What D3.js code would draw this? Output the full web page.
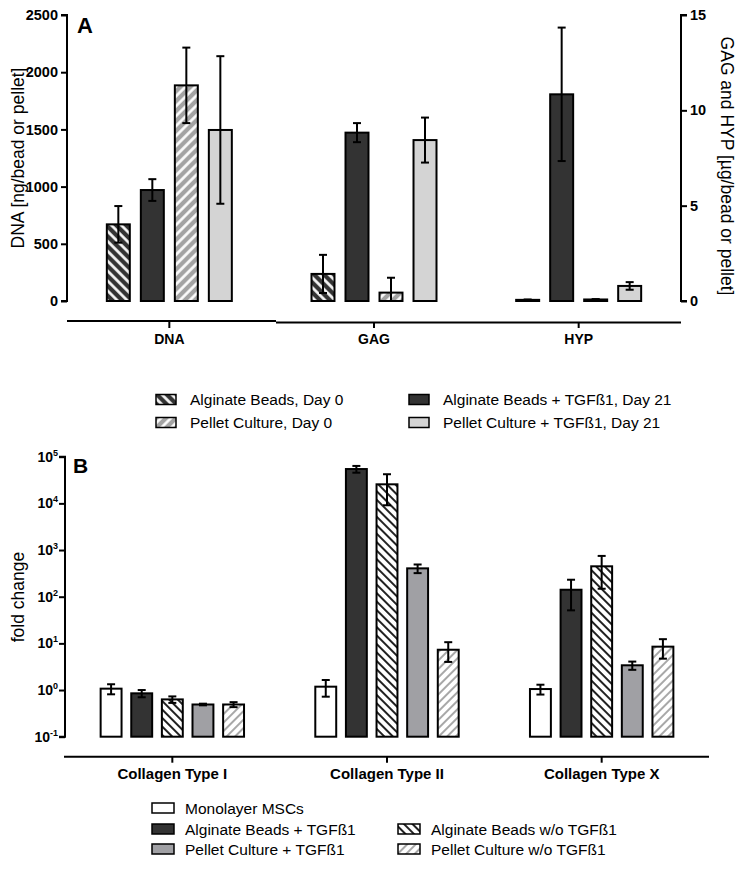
<!DOCTYPE html>
<html><head><meta charset="utf-8">
<script src="https://cdn.jsdelivr.net/npm/d3@7"></script>
<style>
body{margin:0;background:#fff;}
svg{display:block;font-family:Arial,"Liberation Sans",sans-serif;}
</style></head>
<body>
<svg id="chart" width="743" height="869"></svg>
<script>
// ---------- Panel A data ----------
const groupsA = ["DNA", "GAG", "HYP"];
const seriesA = ["Alginate Beads, Day 0", "Alginate Beads + TGFß1, Day 21", "Pellet Culture, Day 0", "Pellet Culture + TGFß1, Day 21"];
const algDay0 = [670, 1.42, 0.06];
const algDay0Sd = [160, 1.0, 0.02];
const algTgfDay21 = [970, 8.83, 10.84];
const algTgfDay21Sd = [95, 0.5, 3.5];
const pelDay0 = [1885, 0.44, 0.08];
const pelDay0Sd = [330, 0.78, 0.02];
const pelTgfDay21 = [1495, 8.44, 0.79];
const pelTgfDay21Sd = [645, 1.18, 0.2];
const leftTicksA = [0, 500, 1000, 1500, 2000, 2500];
const rightTicksA = [0, 5, 10, 15];

// ---------- Panel B data ----------
const groupsB = ["Collagen Type I", "Collagen Type II", "Collagen Type X"];
const seriesB = ["Monolayer MSCs", "Alginate Beads + TGFß1", "Alginate Beads w/o TGFß1", "Pellet Culture + TGFß1", "Pellet Culture w/o TGFß1"];
const monolayer = [1.07, 1.18, 1.05];
const monolayerSd = [0.26, 0.46, 0.25];
const algTgf = [0.85, 54400, 141];
const algTgfSd = [0.15, 9000, 90];
const algNoTgf = [0.63, 25600, 448];
const algNoTgfSd = [0.1, 16500, 300];
const pelTgf = [0.49, 405, 3.39];
const pelTgfSd = [0.02, 85, 0.68];
const pelNoTgf = [0.49, 7.3, 8.5];
const pelNoTgfSd = [0.06, 3.3, 3.8];
const logTicksB = [-1, 0, 1, 2, 3, 4, 5];

const FONT = "Arial, 'Liberation Sans', sans-serif";
const svg = d3.select("#chart");
const defs = svg.append("defs");
function hatch(id, bg, fg, angle, size, lw) {
  const p = defs.append("pattern").attr("id", id).attr("patternUnits", "userSpaceOnUse")
    .attr("width", size).attr("height", size).attr("patternTransform", `rotate(${angle})`);
  p.append("rect").attr("width", size).attr("height", size).attr("fill", bg);
  p.append("line").attr("x1", size / 2).attr("x2", size / 2).attr("y1", 0).attr("y2", size)
    .attr("stroke", fg).attr("stroke-width", lw);
}
hatch("hA1", "#333333", "#ffffff", -45, 7, 2.6);
hatch("hA3", "#a3a3a3", "#ffffff", 45, 7, 2.6);
hatch("hB3", "#ffffff", "#222222", -45, 6, 2.0);
hatch("hB5", "#ffffff", "#a8a8a8", 45, 6, 2.0);

const fillsA = ["url(#hA1)", "#333333", "url(#hA3)", "#d4d4d4"];
const fillsB = ["#ffffff", "#333333", "url(#hB3)", "#a0a0a4", "url(#hB5)"];

// ================= PANEL A =================
const topA = 15, botA = 301, leftA = 67, rightA = 681;
const yL = d3.scaleLinear().domain([0, 2500]).range([botA, topA]);
const yR = d3.scaleLinear().domain([0, 15]).range([botA, topA]);
const xA = d3.scaleBand().domain(groupsA).range([leftA, rightA]);
const xAin = d3.scaleBand().domain(seriesA).range([-62.5, 62.5]).paddingInner(0.324);

const gA = svg.append("g");
const valsA = [algDay0, algTgfDay21, pelDay0, pelTgfDay21];
const sdsA = [algDay0Sd, algTgfDay21Sd, pelDay0Sd, pelTgfDay21Sd];
const dataA = [];
groupsA.forEach((g, gi) => seriesA.forEach((s, si) => {
  dataA.push({g, s, si, v: valsA[si][gi], sd: sdsA[si][gi], y: gi === 0 ? yL : yR});
}));
const barA = gA.selectAll("g.bar").data(dataA).join("g");
barA.append("rect")
  .attr("x", d => xA(d.g) + xA.bandwidth() / 2 + xAin(d.s))
  .attr("width", xAin.bandwidth())
  .attr("y", d => d.y(d.v))
  .attr("height", d => d.y(0) - d.y(d.v))
  .attr("fill", d => fillsA[d.si]).attr("stroke", "#000").attr("stroke-width", 2);
barA.each(function(d) {
  const cx = xA(d.g) + xA.bandwidth() / 2 + xAin(d.s) + xAin.bandwidth() / 2;
  const hi = d.y(d.v + d.sd), lo = d.y(Math.max(0, d.v - d.sd));
  const g = d3.select(this);
  g.append("line").attr("x1", cx).attr("x2", cx).attr("y1", hi).attr("y2", lo).attr("stroke", "#000").attr("stroke-width", 2);
  g.append("line").attr("x1", cx - 4).attr("x2", cx + 4).attr("y1", hi).attr("y2", hi).attr("stroke", "#000").attr("stroke-width", 2);
  if (d.v - d.sd > 0) g.append("line").attr("x1", cx - 4).attr("x2", cx + 4).attr("y1", lo).attr("y2", lo).attr("stroke", "#000").attr("stroke-width", 2);
});

// axes A
const axL = d3.axisLeft(yL).tickValues(leftTicksA).tickFormat(d3.format("d")).tickSize(6).tickPadding(3);
const gL = svg.append("g").attr("transform", `translate(${leftA},0)`).call(axL);
const axR = d3.axisRight(yR).tickValues(rightTicksA).tickFormat(d3.format("d")).tickSize(6).tickPadding(3);
const gR = svg.append("g").attr("transform", `translate(${rightA},0)`).call(axR);
[gL, gR].forEach(g => {
  g.select(".domain").attr("stroke-width", 2).attr("d", g === gL ? `M-6,${topA}H0V${botA}H-6` : `M6,${topA}H0V${botA}H6`);
  g.selectAll(".tick line").attr("stroke-width", 2);
  g.selectAll(".tick text").attr("font-size", 14.5).attr("font-weight", "bold").attr("fill", "#000")
    .attr("font-family", FONT);
});
// x axis A (segmented)
svg.append("line").attr("x1", leftA).attr("x2", 276).attr("y1", 321).attr("y2", 321).attr("stroke", "#000").attr("stroke-width", 2);
svg.append("line").attr("x1", 276).attr("x2", rightA).attr("y1", 322.5).attr("y2", 322.5).attr("stroke", "#000").attr("stroke-width", 2);
const axBA = d3.axisBottom(xA).tickSize(6).tickPadding(6);
const gBA = svg.append("g").attr("transform", "translate(0,322)").call(axBA);
gBA.select(".domain").remove();
gBA.selectAll(".tick line").attr("stroke-width", 2);
gBA.selectAll(".tick text").attr("font-size", 14).attr("font-weight", "bold").attr("fill", "#000")
  .attr("font-family", FONT);

svg.append("text").attr("transform", `translate(24,158) rotate(-90)`).attr("text-anchor", "middle")
  .attr("font-size", 17.5).text("DNA [ng/bead or pellet]");
svg.append("text").attr("transform", `translate(721,166) rotate(90)`).attr("text-anchor", "middle")
  .attr("font-size", 17.5).text("GAG and HYP [µg/bead or pellet]");
svg.append("text").attr("x", 77).attr("y", 33).attr("font-size", 22).attr("font-weight", "bold").text("A");

// legend A
const legA = [{i: 0, x: 156, y: 399}, {i: 2, x: 156, y: 422}, {i: 1, x: 409, y: 399}, {i: 3, x: 409, y: 422}];
legA.forEach(l => {
  svg.append("rect").attr("x", l.x).attr("y", l.y - 4.5).attr("width", 20).attr("height", 10)
    .attr("fill", fillsA[l.i]).attr("stroke", "#000").attr("stroke-width", 1.5);
  svg.append("text").attr("x", l.x + 34).attr("y", l.y + 5.5).attr("font-size", 15.5).text(seriesA[l.i]);
});

// ================= PANEL B =================
const topB = 456.7, botB = 736.7, leftB = 65, rightB = 709;
const yB = d3.scaleLog().domain([0.1, 1e5]).range([botB, topB]);
const xB = d3.scaleBand().domain(groupsB).range([leftB, rightB]);
const xBin = d3.scaleBand().domain(seriesB).range([-71.7, 71.7]).paddingInner(0.317);
const valsB = [monolayer, algTgf, algNoTgf, pelTgf, pelNoTgf];
const sdsB = [monolayerSd, algTgfSd, algNoTgfSd, pelTgfSd, pelNoTgfSd];
const dataB = [];
groupsB.forEach((g, gi) => seriesB.forEach((s, si) => {
  dataB.push({g, s, si, v: valsB[si][gi], sd: sdsB[si][gi]});
}));
const barB = svg.append("g").selectAll("g").data(dataB).join("g");
barB.append("rect")
  .attr("x", d => xB(d.g) + xB.bandwidth() / 2 + xBin(d.s))
  .attr("width", xBin.bandwidth())
  .attr("y", d => yB(d.v))
  .attr("height", d => yB(0.1) - yB(d.v))
  .attr("fill", d => fillsB[d.si]).attr("stroke", "#000").attr("stroke-width", 2);
barB.each(function(d) {
  const cx = xB(d.g) + xB.bandwidth() / 2 + xBin(d.s) + xBin.bandwidth() / 2;
  const hi = yB(d.v + d.sd), lo = yB(Math.max(0.1, d.v - d.sd));
  const g = d3.select(this);
  g.append("line").attr("x1", cx).attr("x2", cx).attr("y1", hi).attr("y2", lo).attr("stroke", "#000").attr("stroke-width", 2);
  [hi, lo].forEach(yy => g.append("line").attr("x1", cx - 4).attr("x2", cx + 4).attr("y1", yy).attr("y2", yy).attr("stroke", "#000").attr("stroke-width", 2));
});

const axYB = d3.axisLeft(yB).tickValues(logTicksB.map(e => Math.pow(10, e))).tickSize(6).tickFormat("");
const gYB = svg.append("g").attr("transform", `translate(${leftB},0)`).call(axYB);
gYB.select(".domain").attr("stroke-width", 2).attr("d", `M-6,${topB}H0V${botB}H-6`);
gYB.selectAll(".tick line").attr("stroke-width", 2);
logTicksB.forEach(e => {
  const t = svg.append("text").attr("x", leftB - 7).attr("y", yB(Math.pow(10, e)) + 5)
    .attr("text-anchor", "end").attr("font-size", 14).attr("font-weight", "bold");
  t.append("tspan").text("10");
  t.append("tspan").attr("font-size", 9).attr("dy", -6).text(e);
});
svg.append("line").attr("x1", 64).attr("x2", rightB).attr("y1", 756.7).attr("y2", 756.7).attr("stroke", "#000").attr("stroke-width", 2);
const axXB = d3.axisBottom(xB).tickSize(6).tickPadding(6);
const gXB = svg.append("g").attr("transform", "translate(0,756.7)").call(axXB);
gXB.select(".domain").remove();
gXB.selectAll(".tick line").attr("stroke-width", 2);
gXB.selectAll(".tick text").attr("font-size", 15).attr("font-weight", "bold").attr("fill", "#000")
  .attr("font-family", FONT);

svg.append("text").attr("transform", `translate(24,597) rotate(-90)`).attr("text-anchor", "middle")
  .attr("font-size", 17.5).text("fold change");
svg.append("text").attr("x", 73).attr("y", 473).attr("font-size", 21).attr("font-weight", "bold").text("B");

// legend B
const legB = [{i: 0, x: 152, y: 808}, {i: 1, x: 152, y: 829}, {i: 3, x: 152, y: 849}, {i: 2, x: 398, y: 829}, {i: 4, x: 398, y: 849}];
legB.forEach(l => {
  svg.append("rect").attr("x", l.x).attr("y", l.y - 5).attr("width", 22).attr("height", 10)
    .attr("fill", fillsB[l.i]).attr("stroke", "#000").attr("stroke-width", 1.5);
  svg.append("text").attr("x", l.x + 33).attr("y", l.y + 5.5).attr("font-size", 15.5).text(seriesB[l.i]);
});
</script>
</body></html>
